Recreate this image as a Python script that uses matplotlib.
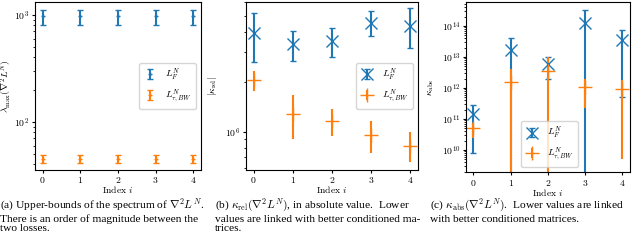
import numpy as np
import matplotlib
matplotlib.use("Agg")
import matplotlib.pyplot as plt
from matplotlib.ticker import NullFormatter

plt.rcParams['mathtext.fontset'] = 'cm'
plt.rcParams['font.family'] = 'cmr10'
plt.rcParams['axes.formatter.use_mathtext'] = True
plt.rcParams['font.size'] = 7

idx = [0, 1, 2, 3, 4]
labels = [r'$L_F^N$', r'$L_{\tau,BW}^N$']

# (a) upper bound of the spectrum
lam_F = [965, 965, 965, 965, 965]
lam_F_err = [155, 155, 155, 155, 155]
lam_BW = [44.8, 44.8, 44.8, 44.8, 44.8]
lam_BW_err = [3.7, 3.7, 3.7, 3.7, 3.7]

# (b) relative condition number
rel_F = [3.92e6, 3.36e6, 3.53e6, 4.54e6, 4.35e6]
rel_F_err = [1.28e6, 0.70e6, 0.70e6, 0.75e6, 1.17e6]
rel_BW = [2.04e6, 1.28e6, 1.155e6, 0.95e6, 0.824e6]
rel_BW_err = [0.29e6, 0.38e6, 0.21e6, 0.21e6, 0.168e6]

# (c) absolute condition number
abs_F = [1.4e11, 1.7e13, 6.0e12, 1.2e14, 3.6e13]
abs_F_err = [1.32e11, 2.5e13, 4.0e12, 2.1e14, 3.55e13]
abs_BW = [5.0e10, 1.6e12, 3.4e12, 1.05e12, 9.1e11]
abs_BW_err = [2.6e10, 2.5e12, 6.3e12, 8.3e11, 9.05e11]

captions = [
    "(a) Upper-bounds of the spectrum of $\\nabla^2 L^N$.\n"
    "There is an order of magnitude between the\n"
    "two losses.",
    "(b) $\\kappa_{\\rm rel}(\\nabla^2 L^N)$, in absolute value.  Lower\n"
    "values are linked with better conditioned ma-\n"
    "trices.",
    "(c) $\\kappa_{\\rm abs}(\\nabla^2 L^N)$.  Lower values are linked\n"
    "with better conditioned matrices.",
]

fig = plt.figure(figsize=(6.4, 2.41), dpi=100)
ax1 = fig.add_axes([0.0547, 0.295, 0.259, 0.697])
ax2 = fig.add_axes([0.384, 0.295, 0.269, 0.697])
ax3 = fig.add_axes([0.728, 0.286, 0.256, 0.706])

c1, c2 = 'tab:blue', 'tab:orange'

ax1.errorbar(idx, lam_F, yerr=lam_F_err, fmt='+', color=c1, ms=3, capsize=2, lw=1.5, label=labels[0])
ax1.errorbar(idx, lam_BW, yerr=lam_BW_err, fmt='+', color=c2, ms=3, capsize=2, lw=1.5, label=labels[1])
ax1.set_yscale('log')
ax1.set_ylim(35.5, 1320)
ax1.set_ylabel(r'$\lambda_{\max}(\nabla^2 L^N)$')
ax1.yaxis.set_label_coords(-0.125, 0.5)
ax1.legend(loc='center right', bbox_to_anchor=(1.0, 0.5), handlelength=1.5)

ax2.errorbar(idx, rel_F, yerr=rel_F_err, fmt='x', color=c1, ms=8, capsize=2, lw=1.5, label=labels[0])
ax2.errorbar(idx, rel_BW, yerr=rel_BW_err, fmt='+', color=c2, ms=10, capsize=0, lw=1.5, label=labels[1])
ax2.set_yscale('log')
ax2.set_ylim(5.88e5, 6.04e6)
ax2.set_ylabel(r'$|\kappa_{\rm rel}|$')
ax2.legend(loc='center right', bbox_to_anchor=(1.0, 0.5), handlelength=1.5)

ax3.errorbar(idx, abs_F, yerr=abs_F_err, fmt='x', color=c1, ms=8, capsize=2, lw=1.5, label=labels[0])
ax3.errorbar(idx, abs_BW, yerr=abs_BW_err, fmt='+', color=c2, ms=10, capsize=0, lw=1.5, label=labels[1])
ax3.set_yscale('log')
ax3.set_ylim(1.95e9, 5.9e14)
ax3.set_ylabel(r'$\kappa_{\rm abs}$')
ax3.legend(loc='lower center', bbox_to_anchor=(0.51, 0.0), handlelength=1.5)

for ax in (ax1, ax2, ax3):
    ax.set_xlabel('Index $i$')
    ax.set_xticks(idx)
    ax.set_xlim(-0.2, 4.2)
    ax.tick_params(which='major', length=2.5, pad=1.5)
    ax.tick_params(which='minor', length=1.5)
    ax.yaxis.set_minor_formatter(NullFormatter())
    ax.xaxis.set_label_coords(0.5, -0.085)

for x, txt in zip([0.0, 0.336, 0.672], captions):
    fig.text(x, 0.183, txt, family='Liberation Serif', fontsize=8.2,
             va='top', ha='left', linespacing=1.1)

fig.savefig('out.png', dpi=100)
